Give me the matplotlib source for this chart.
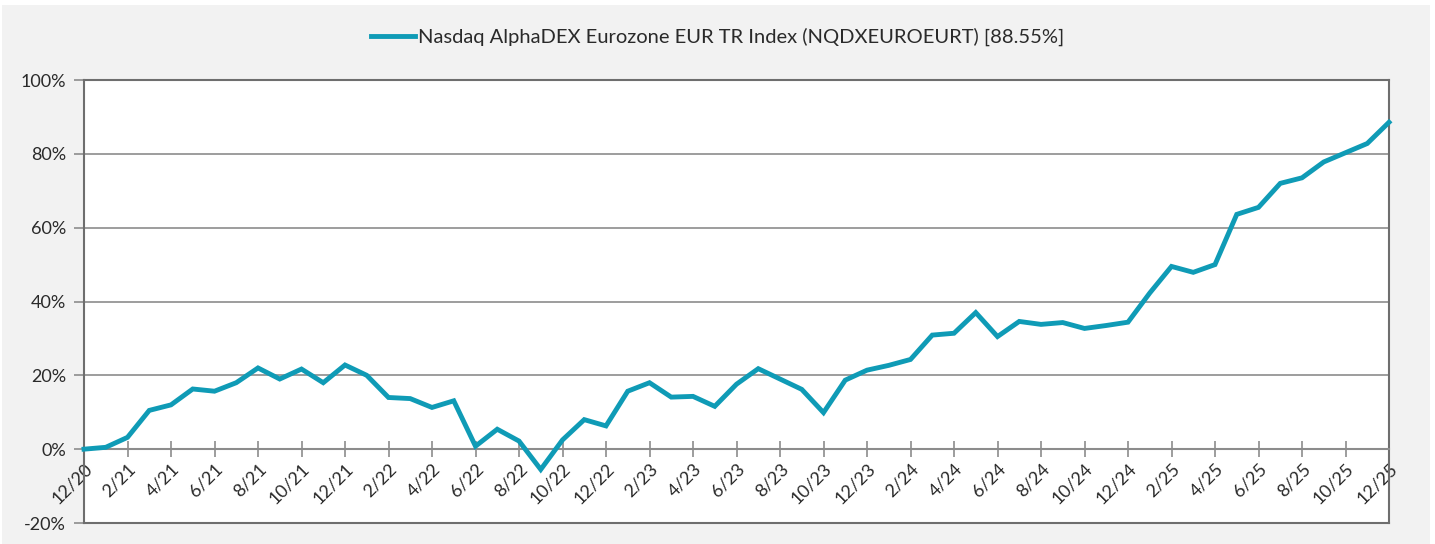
import matplotlib
matplotlib.use("Agg")
import numpy as np
import matplotlib.pyplot as plt
from matplotlib.patches import Rectangle
from matplotlib.ticker import FuncFormatter

plt.rcParams['font.family'] = ['Lato', 'DejaVu Sans']

# monthly cumulative return (%) from 12/20 to 12/25
months = ['12/20', '1/21', '2/21', '3/21', '4/21', '5/21', '6/21', '7/21', '8/21', '9/21', '10/21', '11/21',
          '12/21', '1/22', '2/22', '3/22', '4/22', '5/22', '6/22', '7/22', '8/22', '9/22', '10/22', '11/22',
          '12/22', '1/23', '2/23', '3/23', '4/23', '5/23', '6/23', '7/23', '8/23', '9/23', '10/23', '11/23',
          '12/23', '1/24', '2/24', '3/24', '4/24', '5/24', '6/24', '7/24', '8/24', '9/24', '10/24', '11/24',
          '12/24', '1/25', '2/25', '3/25', '4/25', '5/25', '6/25', '7/25', '8/25', '9/25', '10/25', '11/25',
          '12/25']
values = [0.0, 0.5, 3.2, 10.5, 12.0, 16.3, 15.7, 18.0, 22.0, 19.0, 21.7, 18.0,
          22.8, 20.0, 14.0, 13.7, 11.3, 13.1, 0.8, 5.4, 2.2, -5.5, 2.5, 8.0,
          6.3, 15.7, 18.0, 14.1, 14.3, 11.6, 17.6, 21.8, 19.0, 16.2, 9.9, 18.7,
          21.4, 22.7, 24.3, 30.9, 31.4, 37.0, 30.5, 34.6, 33.8, 34.3, 32.7, 33.5,
          34.4, 42.3, 49.5, 47.9, 50.0, 63.6, 65.5, 72.0, 73.5, 77.8, 80.3, 82.8,
          88.55]
series_name = 'Nasdaq AlphaDEX Eurozone EUR TR Index (NQDXEUROEURT) [88.55%]'

line_color = '#0f9bb6'
grid_color = '#8c8c8c'
frame_color = '#6e6e6e'
text_color = '#2a2a2a'

fig = plt.figure(figsize=(14.35, 5.44), dpi=100, facecolor='white')
fig.patches.append(Rectangle((2 / 1435, 0), 1428 / 1435, 539 / 544, transform=fig.transFigure,
                             facecolor='#f2f2f2', edgecolor='none', zorder=-10))

ax = fig.add_axes([84 / 1435, 21 / 544, 1305 / 1435, 443 / 544])
ax.set_facecolor('white')

x = np.arange(len(values))
ax.plot(x, values, color=line_color, lw=3.5, solid_joinstyle='miter', zorder=3,
        label=series_name, clip_on=False)

ax.set_xlim(0, len(values) - 1)
ax.set_ylim(-20, 100)
ax.set_yticks(np.arange(-20, 101, 20))
ax.yaxis.set_major_formatter(FuncFormatter(lambda v, p: f'{v:.0f}%'))
for yv in [20, 40, 60, 80]:
    ax.axhline(yv, color=grid_color, lw=1.2, zorder=1)

# x axis sits on the 0% line
ax.spines['bottom'].set_position(('data', 0))
ax.spines['bottom'].set_color(grid_color)
ax.spines['bottom'].set_linewidth(1.5)
ax.plot([0, 1], [0, 0], transform=ax.transAxes, color=frame_color, lw=1.5, clip_on=False, zorder=2)
for s in ['left', 'top', 'right']:
    ax.spines[s].set_color(frame_color)
    ax.spines[s].set_linewidth(1.5)

ax.set_xticks(x[::2])
ax.set_xticklabels(months[::2], rotation=45, ha='right', va='top', rotation_mode='anchor')
ax.tick_params(axis='x', direction='inout', length=12, width=1.2, color=grid_color,
               labelsize=13, labelcolor=text_color, pad=2)
ax.tick_params(axis='y', direction='out', length=7, width=1.2, color=grid_color,
               labelsize=13, labelcolor=text_color, pad=6)

fig.legend(loc='center', bbox_to_anchor=(0.5, 1 - 37 / 544), frameon=False, fontsize=14.5,
           handlelength=2.2, handletextpad=0.15, labelcolor=text_color)

fig.savefig('out.png', dpi=100, facecolor=fig.get_facecolor())
